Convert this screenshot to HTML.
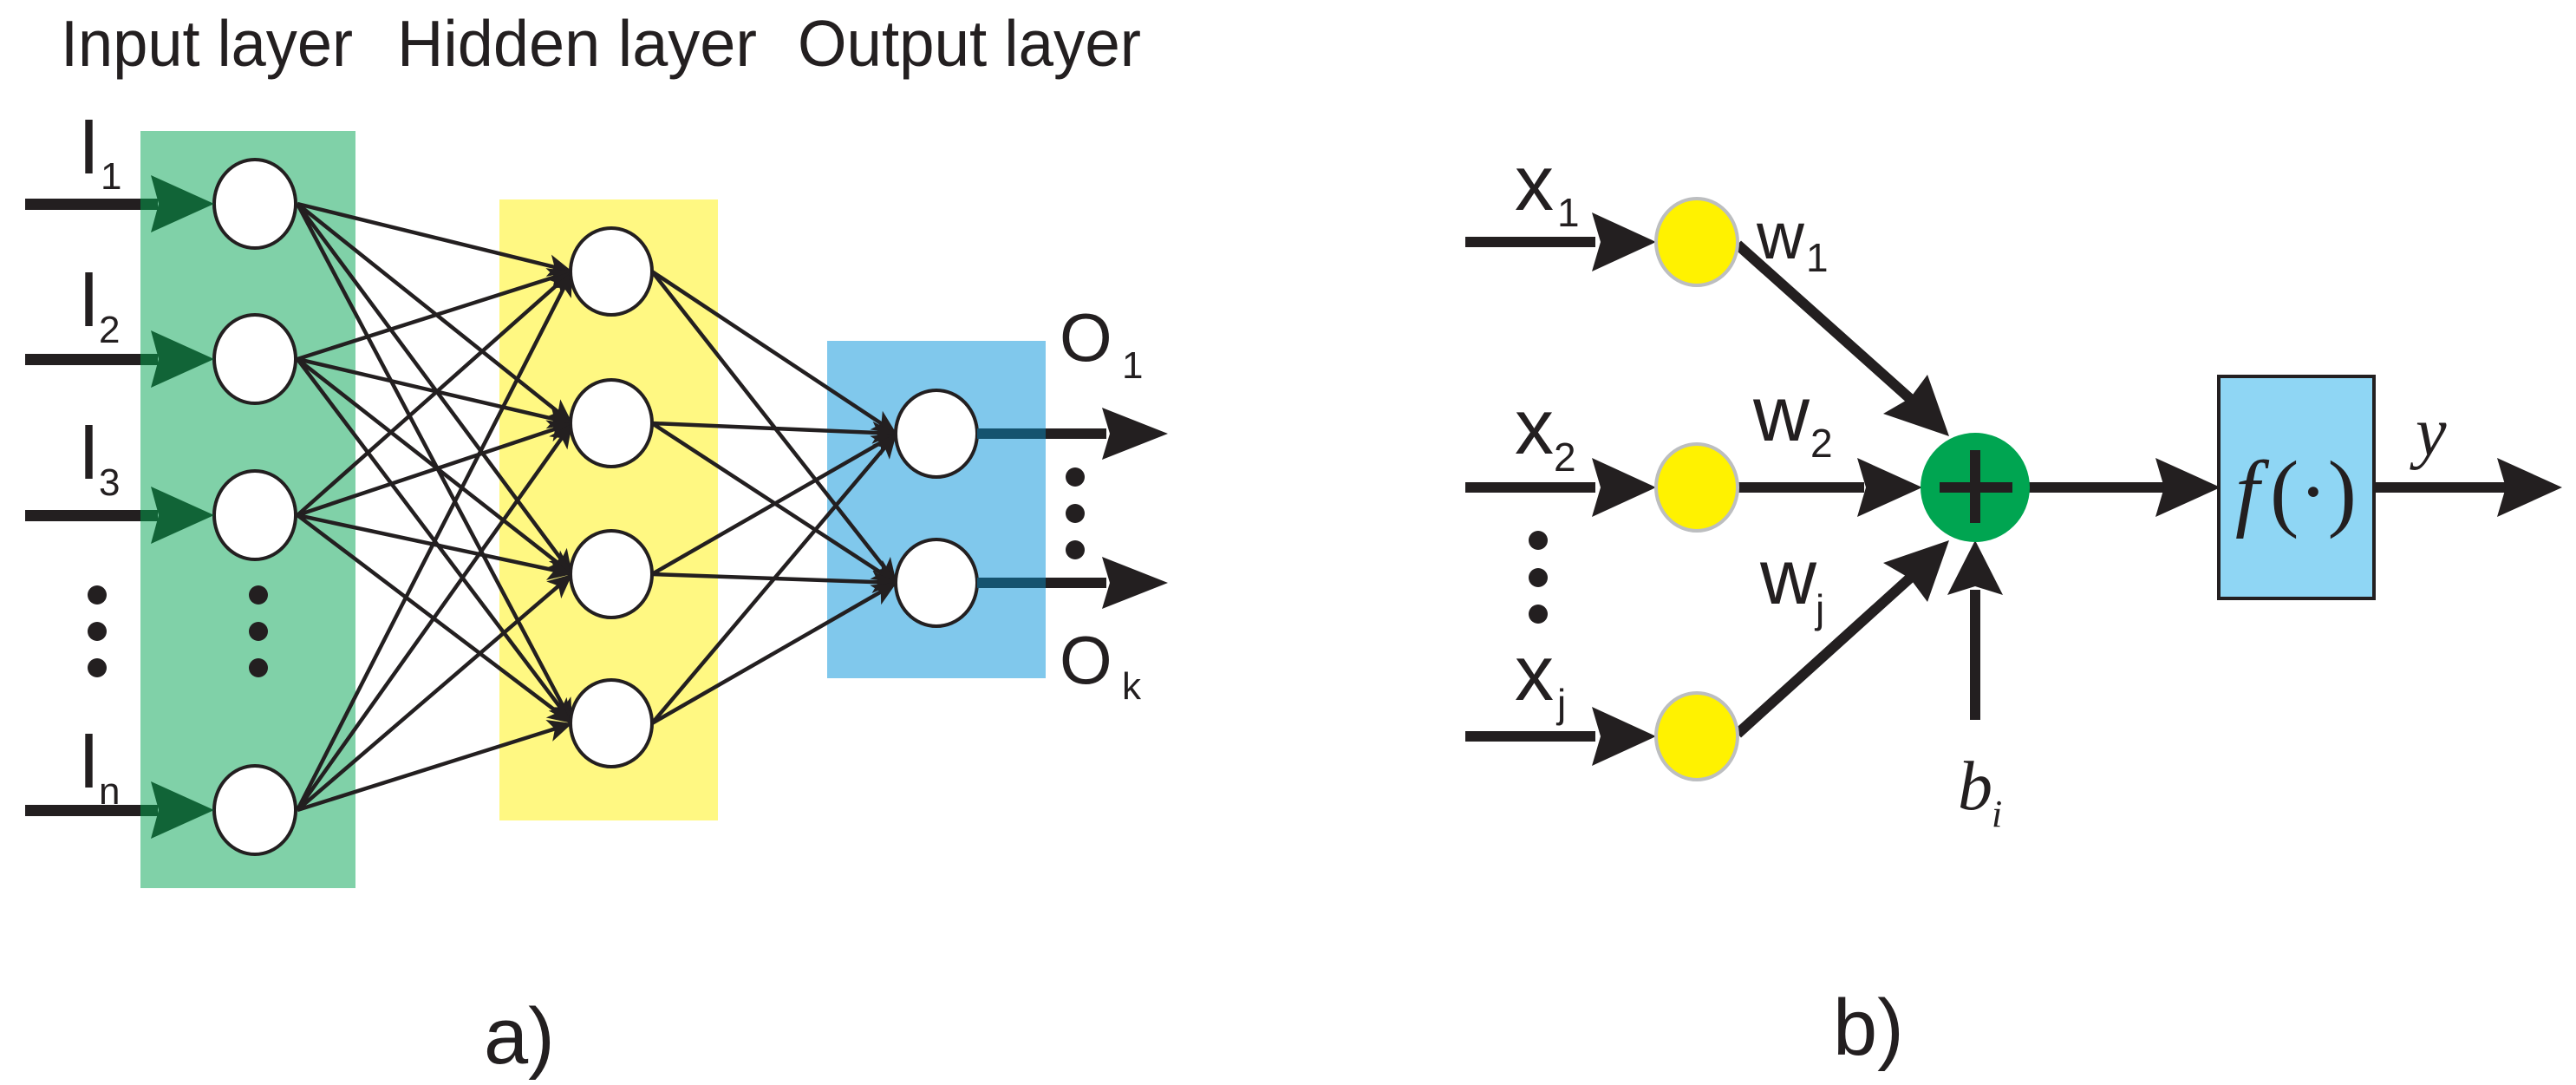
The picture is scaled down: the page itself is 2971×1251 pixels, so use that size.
<!DOCTYPE html>
<html><head><meta charset="utf-8"><style>html,body{margin:0;padding:0;background:#fff}svg{display:block}</style></head>
<body>
<svg width="2971" height="1251" viewBox="0 0 2971 1251" xmlns="http://www.w3.org/2000/svg" font-family="Liberation Sans, sans-serif">
<defs>
<marker id="ah" markerUnits="userSpaceOnUse" markerWidth="40" markerHeight="40" refX="30" refY="15" orient="auto">
<path d="M2,2 L30,15 L2,28 L9,15 Z" fill="#231f20"/>
</marker>
</defs>
<rect x="162" y="151" width="248" height="873" fill="#80d1a8"/>
<rect x="576" y="230" width="252" height="716" fill="#fff882"/>
<rect x="954" y="393" width="252" height="389" fill="#80c8ec"/>
<g fill="#231f20" font-size="75">
<text x="70" y="76" textLength="337" lengthAdjust="spacingAndGlyphs">Input layer</text>
<text x="458" y="76" textLength="415" lengthAdjust="spacingAndGlyphs">Hidden layer</text>
<text x="920" y="76" textLength="396" lengthAdjust="spacingAndGlyphs">Output layer</text>
</g>
<g stroke="#231f20" stroke-width="4.5" marker-end="url(#ah)">
<line x1="343" y1="235" x2="660" y2="313"/><line x1="343" y1="235" x2="660" y2="488"/><line x1="343" y1="235" x2="660" y2="662"/><line x1="343" y1="235" x2="660" y2="834"/>
<line x1="343" y1="414" x2="660" y2="313"/><line x1="343" y1="414" x2="660" y2="488"/><line x1="343" y1="414" x2="660" y2="662"/><line x1="343" y1="414" x2="660" y2="834"/>
<line x1="343" y1="594" x2="660" y2="313"/><line x1="343" y1="594" x2="660" y2="488"/><line x1="343" y1="594" x2="660" y2="662"/><line x1="343" y1="594" x2="660" y2="834"/>
<line x1="343" y1="934" x2="660" y2="313"/><line x1="343" y1="934" x2="660" y2="488"/><line x1="343" y1="934" x2="660" y2="662"/><line x1="343" y1="934" x2="660" y2="834"/>
<line x1="752" y1="313" x2="1034" y2="500"/><line x1="752" y1="313" x2="1034" y2="672"/>
<line x1="752" y1="488" x2="1034" y2="500"/><line x1="752" y1="488" x2="1034" y2="672"/>
<line x1="752" y1="662" x2="1034" y2="500"/><line x1="752" y1="662" x2="1034" y2="672"/>
<line x1="752" y1="834" x2="1034" y2="500"/><line x1="752" y1="834" x2="1034" y2="672"/>
</g>
<g fill="#fff" stroke="#231f20" stroke-width="4">
<ellipse cx="294" cy="235" rx="47" ry="51"/><ellipse cx="294" cy="414" rx="47" ry="51"/><ellipse cx="294" cy="594" rx="47" ry="51"/><ellipse cx="294" cy="934" rx="47" ry="51"/>
<ellipse cx="705" cy="313" rx="47" ry="50"/><ellipse cx="705" cy="488" rx="47" ry="50"/><ellipse cx="705" cy="662" rx="47" ry="50"/><ellipse cx="705" cy="834" rx="47" ry="50"/>
<ellipse cx="1080" cy="500" rx="47" ry="50"/><ellipse cx="1080" cy="672" rx="47" ry="50"/>
</g>
<g>
<rect x="29" y="229" width="133" height="13" fill="#231f20"/><rect x="162" y="229" width="20" height="13" fill="#116437"/><path d="M174,202 L247,235 L174,268 L183,235 Z" fill="#116437"/>
<rect x="29" y="408" width="133" height="13" fill="#231f20"/><rect x="162" y="408" width="20" height="13" fill="#116437"/><path d="M174,381 L247,414 L174,447 L183,414 Z" fill="#116437"/>
<rect x="29" y="588" width="133" height="13" fill="#231f20"/><rect x="162" y="588" width="20" height="13" fill="#116437"/><path d="M174,561 L247,594 L174,627 L183,594 Z" fill="#116437"/>
<rect x="29" y="928" width="133" height="13" fill="#231f20"/><rect x="162" y="928" width="20" height="13" fill="#116437"/><path d="M174,901 L247,934 L174,967 L183,934 Z" fill="#116437"/>
</g>
<rect x="1127" y="494" width="79" height="12" fill="#15536f"/><rect x="1206" y="494" width="70" height="12" fill="#231f20"/><path d="M1271,470 L1347,500 L1271,530 L1280,500 Z" fill="#231f20"/>
<rect x="1127" y="666" width="79" height="12" fill="#15536f"/><rect x="1206" y="666" width="70" height="12" fill="#231f20"/><path d="M1271,642 L1347,672 L1271,702 L1280,672 Z" fill="#231f20"/>
<g fill="#231f20">
<circle cx="112" cy="686" r="11"/><circle cx="112" cy="728" r="11"/><circle cx="112" cy="770" r="11"/>
<circle cx="298" cy="686" r="11"/><circle cx="298" cy="728" r="11"/><circle cx="298" cy="770" r="11"/>
<circle cx="1240" cy="550" r="11"/><circle cx="1240" cy="592" r="11"/><circle cx="1240" cy="634" r="11"/>
</g>
<g fill="#231f20" font-size="90">
<text x="90" y="200">I</text><text x="90" y="376">I</text><text x="90" y="552">I</text><text x="90" y="908">I</text>
<text x="1222" y="416" font-size="78">O</text><text x="1222" y="788" font-size="78">O</text>
</g>
<g fill="#231f20" font-size="44">
<text x="116" y="218">1</text><text x="114" y="395">2</text><text x="114" y="571">3</text><text x="114" y="927">n</text>
<text x="1294" y="436">1</text><text x="1294" y="806">k</text>
</g>
<text x="558" y="1226" font-size="92" fill="#231f20">a)</text>

<g fill="#231f20">
<rect x="1690" y="273" width="150" height="12"/><path d="M1836,245 L1910,279 L1836,313 L1846,279 Z"/>
<rect x="1690" y="556" width="150" height="12"/><path d="M1836,528 L1910,562 L1836,596 L1846,562 Z"/>
<rect x="1690" y="843" width="150" height="12"/><path d="M1836,815 L1910,849 L1836,883 L1846,849 Z"/>
<circle cx="1774" cy="623" r="11"/><circle cx="1774" cy="666" r="11"/><circle cx="1774" cy="708" r="11"/>
</g>
<g stroke="#231f20" stroke-width="12">
<line x1="2004" y1="282" x2="2210" y2="466"/>
<line x1="2004" y1="562" x2="2150" y2="562"/>
<line x1="2004" y1="846" x2="2210" y2="660"/>
<line x1="2278" y1="830" x2="2278" y2="680"/>
<line x1="2340" y1="562" x2="2500" y2="562"/>
<line x1="2738" y1="562" x2="2890" y2="562"/>
</g>
<g fill="#231f20">
<path d="M2248,503 L2172,477 L2203,459 L2223,432 Z"/>
<path d="M2217,562 L2142,528 L2152,562 L2142,596 Z"/>
<path d="M2248,623 L2172,649 L2203,667 L2223,694 Z"/>
<path d="M2278,623 L2246,686 L2278,676 L2310,686 Z"/>
<path d="M2561,562 L2486,528 L2496,562 L2486,596 Z"/>
<path d="M2955,562 L2880,528 L2890,562 L2880,596 Z"/>
</g>
<g fill="#fff200" stroke="#bcbec0" stroke-width="4">
<ellipse cx="1957" cy="279" rx="47" ry="50"/><ellipse cx="1957" cy="562" rx="47" ry="50"/><ellipse cx="1957" cy="849" rx="47" ry="50"/>
</g>
<circle cx="2278" cy="562" r="63" fill="#00a551"/>
<rect x="2237" y="556" width="84" height="12" fill="#231f20"/><rect x="2272" y="519" width="12" height="84" fill="#231f20"/>
<rect x="2559" y="434" width="179" height="256" fill="#8fd6f4" stroke="#231f20" stroke-width="4"/>
<g fill="#231f20" font-family="Liberation Serif, serif" font-style="italic">
<text x="2578" y="600" font-size="100">f</text>
<text x="2618" y="600" font-size="100" font-style="normal">(·)</text>
<text x="2786" y="525" font-size="80">y</text>
<text x="2258" y="933" font-size="80">b</text>
<text x="2297" y="953" font-size="44">i</text>
</g>
<g fill="#231f20" font-size="90">
<text x="1747" y="242">x</text><text x="1747" y="523">x</text><text x="1747" y="807">x</text>
<text x="2026" y="298" font-size="76">w</text><text x="2022" y="508">w</text><text x="2030" y="696">w</text>
</g>
<g fill="#231f20" font-size="46">
<text x="1796" y="261">1</text><text x="1792" y="543">2</text><text x="1796" y="827">j</text>
<text x="2083" y="313">1</text><text x="2088" y="527">2</text><text x="2094" y="718">j</text>
</g>
<text x="2114" y="1216" font-size="92" fill="#231f20">b)</text>
</svg>
</body></html>
